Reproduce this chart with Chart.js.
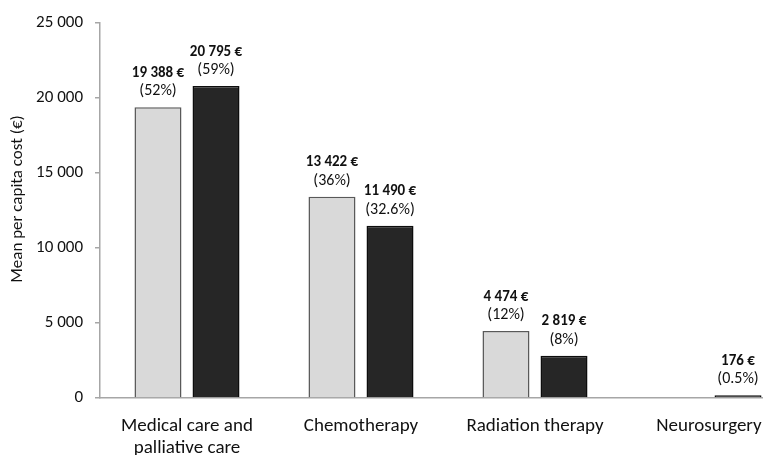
<!DOCTYPE html>
<html>
<head>
<meta charset="utf-8">
<script src="https://cdn.jsdelivr.net/npm/chart.js@4/dist/chart.umd.min.js"></script>
<style>
  html, body { margin: 0; padding: 0; background: #fff; overflow: hidden; }
  #wrap { position: absolute; left: 0; top: 0; width: 800px; height: 470px; }
</style>
</head>
<body>
<div id="wrap"><canvas id="costChart" width="800" height="470"></canvas></div>
<script>
var categories = [["Medical care and", "palliative care"], "Chemotherapy", "Radiation therapy", "Neurosurgery"];
var groupA = [19388, 13422, 4474, null];
var groupB = [20795, 11490, 2819, 176];
var amountA = ["19 388 €", "13 422 €", "4 474 €", ""];
var amountB = ["20 795 €", "11 490 €", "2 819 €", "176 €"];
var shareA = ["(52%)", "(36%)", "(12%)", ""];
var shareB = ["(59%)", "(32.6%)", "(8%)", "(0.5%)"];
var yTicks = [0, 5000, 10000, 15000, 20000, 25000];
var yTitle = "Mean per capita cost (€)";

var FONT = "Carlito, Lato, 'Liberation Sans', sans-serif";

// labels above the bars: amount (bold) then share, plus the y title
var barLabels = {
    id: 'barLabels',
    afterDatasetsDraw: function(chart) {
        var ctx = chart.ctx;
        var texts = [[amountA, shareA], [amountB, shareB]];
        ctx.save();
        ctx.textAlign = 'center';
        ctx.textBaseline = 'middle';
        ctx.fillStyle = '#111';
        chart.data.datasets.forEach(function(ds, i) {
            chart.getDatasetMeta(i).data.forEach(function(bar, j) {
                if (ds.data[j] == null) return;
                ctx.font = "bold 15px " + FONT;
                ctx.fillText(texts[i][0][j], bar.x, bar.y - 34);
                ctx.font = "16px " + FONT;
                ctx.fillText(texts[i][1][j], bar.x, bar.y - 16);
            });
        });
        // y axis title, a bit above the middle like the original
        ctx.translate(18, chart.chartArea.top + 176);
        ctx.rotate(-Math.PI / 2);
        ctx.font = "17px " + FONT;
        ctx.fillText(yTitle, 0, 0);
        ctx.restore();
    }
};

new Chart(document.getElementById('costChart').getContext('2d'), {
    type: 'bar',
    data: {
        labels: categories,
        datasets: [{
            data: groupA,
            backgroundColor: '#d9d9d9',
            borderColor: '#595959',
            borderWidth: 1.5,
            categoryPercentage: 0.667,
            barPercentage: 0.81
        }, {
            data: groupB,
            backgroundColor: '#262626',
            borderColor: '#0d0d0d',
            borderWidth: 1.5,
            categoryPercentage: 0.667,
            barPercentage: 0.81
        }]
    },
    options: {
        responsive: false,
        animation: false,
        layout: { padding: { top: 23, right: 4, left: 0, bottom: 0 } },
        plugins: { legend: { display: false }, tooltip: { enabled: false } },
        scales: {
            x: {
                grid: { display: false },
                border: { display: true, color: '#a6a6a6', width: 1.5 },
                ticks: { color: '#111', font: { family: FONT, size: 19, lineHeight: 1.15 }, padding: 9, maxRotation: 0, autoSkip: false },
                afterFit: function(s) { s.height = 72; }
            },
            y: {
                min: 0,
                max: 25000,
                afterBuildTicks: function(s) { s.ticks = yTicks.map(function(v) { return { value: v }; }); },
                grid: { display: true, drawOnChartArea: false, drawTicks: true, tickLength: 5, color: '#a6a6a6', lineWidth: 1.5 },
                border: { display: true, color: '#a6a6a6', width: 1.5 },
                ticks: {
                    color: '#111',
                    font: { family: FONT, size: 17 },
                    padding: 12,
                    callback: function(v) { return String(v).replace(/\B(?=(\d{3})+(?!\d))/g, ' '); }
                },
                afterFit: function(s) { s.width = 100; }
            }
        }
    },
    plugins: [barLabels]
});
</script>
</body>
</html>
